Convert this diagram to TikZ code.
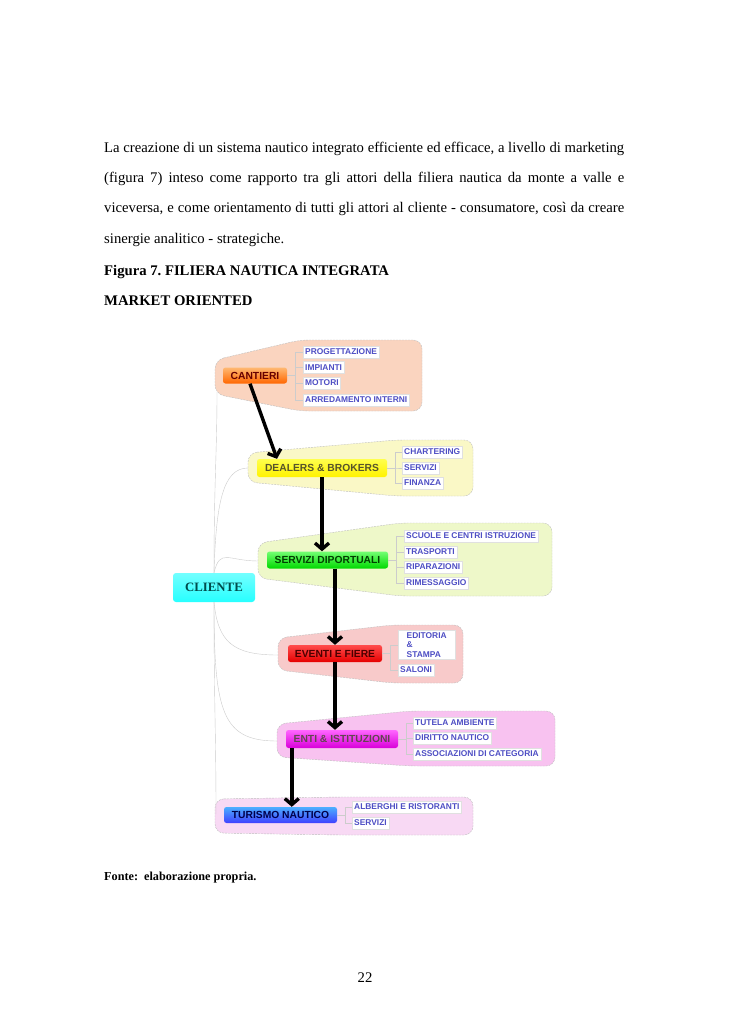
\documentclass[tikz,border=0pt]{standalone}
\usepackage{fontspec}
\setmainfont{Liberation Serif}
\newfontfamily\mapfont{Liberation Sans}
\usetikzlibrary{arrows.meta,positioning}
\frenchspacing

\definecolor{subblue}{RGB}{78,78,196}
\definecolor{cantbg}{HTML}{FAD4BF}
\definecolor{dealbg}{HTML}{FAF8C6}
\definecolor{servbg}{HTML}{EEF8C9}
\definecolor{eventbg}{HTML}{F8CACA}
\definecolor{entibg}{HTML}{F8C2F0}
\definecolor{turbg}{HTML}{F8D9F4}

\begin{document}
\begin{tikzpicture}[x=1pt,y=-1pt,
  body/.style={font=\fontsize{14.7}{30.3}\selectfont,anchor=base west,inner sep=0pt},
  bodybf/.style={body,font=\fontsize{14.7}{30.3}\selectfont\bfseries},
  grp/.style={draw=black!25,dash pattern=on 2pt off 1pt,thin,rounded corners=9pt},
  topic/.style={rounded corners=2.5pt,inner sep=0pt,minimum height=17pt,
                font=\mapfont\fontsize{10.3}{12}\selectfont\bfseries},
  sub/.style={draw=black!12,fill=white,text=subblue,anchor=west,inner xsep=2pt,
              inner ysep=1pt,minimum height=12pt,align=left,
              font=\mapfont\fontsize{8.4}{9.6}\selectfont\bfseries},
  twig/.style={draw=black!20,thin},
  flow/.style={-{Straight Barb[length=6pt,width=14pt]},line width=3.4pt},
]
\useasboundingbox[fill=white] (0,0) rectangle (728,1030);

% ---- page text ----
\node[body,align=left] (para) at (104,243)
  {\makebox[520pt][s]{La creazione di un sistema nautico integrato efficiente ed efficace, a livello di marketing}\\
   \makebox[520pt][s]{(figura 7) inteso come rapporto tra gli attori della filiera nautica da monte a valle e}\\
   \makebox[520pt][s]{viceversa, e come orientamento di tutti gli attori al cliente - consumatore, così da creare}\\
   sinergie analitico - strategiche.};
\node[bodybf] (title) at (104,275) {Figura 7. FILIERA NAUTICA INTEGRATA};
\node[bodybf] (title2) at (104,305) {MARKET ORIENTED};
\node[body,font=\fontsize{12.2}{14}\selectfont\bfseries] (fonte) at (104,880)
  {Fonte:\ \ elaborazione propria.};
\node[body,anchor=base] (pagenum) at (365,982) {22};

% ---- backdrop shapes of the branches ----
\draw[grp,fill=cantbg]  (215,360) -- (300,340) -- (422,340) -- (422,411) -- (300,411) -- (215,394) -- cycle;
\draw[grp,fill=dealbg]  (248,453) -- (396,440) -- (473,440) -- (473,496) -- (396,496) -- (248,482) -- cycle;
\draw[grp,fill=servbg]  (258,543) -- (400,523) -- (552,523) -- (552,596) -- (400,596) -- (258,578) -- cycle;
\draw[grp,fill=eventbg] (278,638) -- (392,625) -- (463,625) -- (463,683) -- (392,683) -- (278,670) -- cycle;
\draw[grp,fill=entibg]  (277,724) -- (410,711) -- (555,711) -- (555,766) -- (410,766) -- (277,757) -- cycle;
\draw[grp,fill=turbg]   (215,799) -- (340,797) -- (473,797) -- (473,835) -- (340,835) -- (215,833) -- cycle;

\coordinate (cantL)  at (217,392);
\coordinate (dealL)  at (248,468);
\coordinate (servL)  at (258,561);
\coordinate (eventL) at (278,655);
\coordinate (entiL)  at (277,741);
\coordinate (turL)   at (216,814);

% ---- main topics ----
\node[topic,top color=orange!55!white,bottom color=orange!80!red,text=red!40!black,
      minimum width=64pt,minimum height=16pt] (cantieri) at (255,375.5) {CANTIERI};
\node[topic,top color=yellow!70!white,bottom color=yellow!95!red,text=olive!50!black,
      minimum width=130pt,minimum height=18pt] (dealers) at (322,468) {DEALERS \& BROKERS};
\node[topic,top color=green!55!white,bottom color=green!85!black,text=green!25!black,
      minimum width=121pt] (servizi) at (327.5,560) {SERVIZI DIPORTUALI};
\node[topic,top color=cyan!55!white,bottom color=cyan!85!white,text=teal!60!black,
      minimum width=82pt,minimum height=29pt,rounded corners=3pt,
      font=\fontsize{12.8}{14}\selectfont\bfseries] (cliente) at (214,587.5) {CLIENTE};
\node[topic,top color=red!70!white,bottom color=red!90!black,text=red!30!black,
      minimum width=94pt] (eventi) at (335,653.5) {EVENTI E FIERE};
\node[topic,top color=magenta!60!white,bottom color=magenta!85!black,text=magenta!30!black,
      minimum width=112pt,minimum height=18pt] (enti) at (342,739) {ENTI \& ISTITUZIONI};
\node[topic,top color=blue!45!cyan!70!white,bottom color=blue!75!white,text=blue!30!black,
      minimum width=113pt,minimum height=16pt] (turismo) at (280.5,815) {TURISMO NAUTICO};

% ---- sub topics ----
\node[sub] (prog)  at (303,352) {PROGETTAZIONE};
\node[sub] (imp)   at (303,367.5) {IMPIANTI};
\node[sub] (mot)   at (303,383) {MOTORI};
\node[sub] (arred) at (303,400) {ARREDAMENTO INTERNI};

\node[sub] (charter) at (402,452) {CHARTERING};
\node[sub] (servd)   at (402,468) {SERVIZI};
\node[sub] (fin)     at (402,483) {FINANZA};

\node[sub] (scuole) at (404,536) {SCUOLE E CENTRI ISTRUZIONE};
\node[sub] (trasp)  at (404,552) {TRASPORTI};
\node[sub] (ripar)  at (404,567) {RIPARAZIONI};
\node[sub] (rimes)  at (404,583) {RIMESSAGGIO};

\node[sub,minimum width=57pt,minimum height=29pt] (edit) at (398,645) {EDITORIA\\\&\\STAMPA};
\node[sub] (saloni) at (398,670) {SALONI};

\node[sub] (tutela) at (413,723) {TUTELA AMBIENTE};
\node[sub] (diritto) at (413,738) {DIRITTO NAUTICO};
\node[sub] (assoc)  at (413,754) {ASSOCIAZIONI DI CATEGORIA};

\node[sub] (alb)  at (352,807) {ALBERGHI E RISTORANTI};
\node[sub] (servt) at (352,823) {SERVIZI};

% branches from each topic to its sub topics
\foreach \s in {prog,imp,mot,arred} \draw[twig] (cantieri.east) -- ++(8,0) |- (\s.west);
\foreach \s in {charter,servd,fin} \draw[twig] (dealers.east) -- ++(8,0) |- (\s.west);
\foreach \s in {scuole,trasp,ripar,rimes} \draw[twig] (servizi.east) -- ++(8,0) |- (\s.west);
\foreach \s in {edit,saloni} \draw[twig] (eventi.east) -- ++(8,0) |- (\s.west);
\foreach \s in {tutela,diritto,assoc} \draw[twig] (enti.east) -- ++(8,0) |- (\s.west);
\foreach \s in {alb,servt} \draw[twig] (turismo.east) -- ++(8,0) |- (\s.west);

% the client is tied to every branch
\draw[twig] (cliente.north) .. controls +(0,-90) and +(0,60) .. (cantL);
\draw[twig] (cliente.north) .. controls +(2,-70) and +(-25,0) .. (dealL);
\draw[twig] (cliente.north) .. controls +(6,-25) and +(-30,0) .. (servL);
\draw[twig] (cliente.south) .. controls +(4,40) and +(-45,0) .. (eventL);
\draw[twig] (cliente.south) .. controls +(0,110) and +(-55,0) .. (entiL);
\draw[twig] (cliente.south) .. controls +(0,100) and +(0,-80) .. (turL);

% the chain, upstream to downstream
\draw[flow] ([xshift=-5pt]cantieri.south) -- ([xshift=-45pt]dealers.north);
\draw[flow] (dealers.south) -- (dealers.south |- servizi.north);
\draw[flow] (eventi.north |- servizi.south) -- (eventi.north);
\draw[flow] (eventi.south) -- (eventi.south |- enti.north);
\draw[flow] ([xshift=6pt]enti.south west) -- ([xshift=6pt]enti.south west |- turismo.north);

\end{tikzpicture}
\end{document}
